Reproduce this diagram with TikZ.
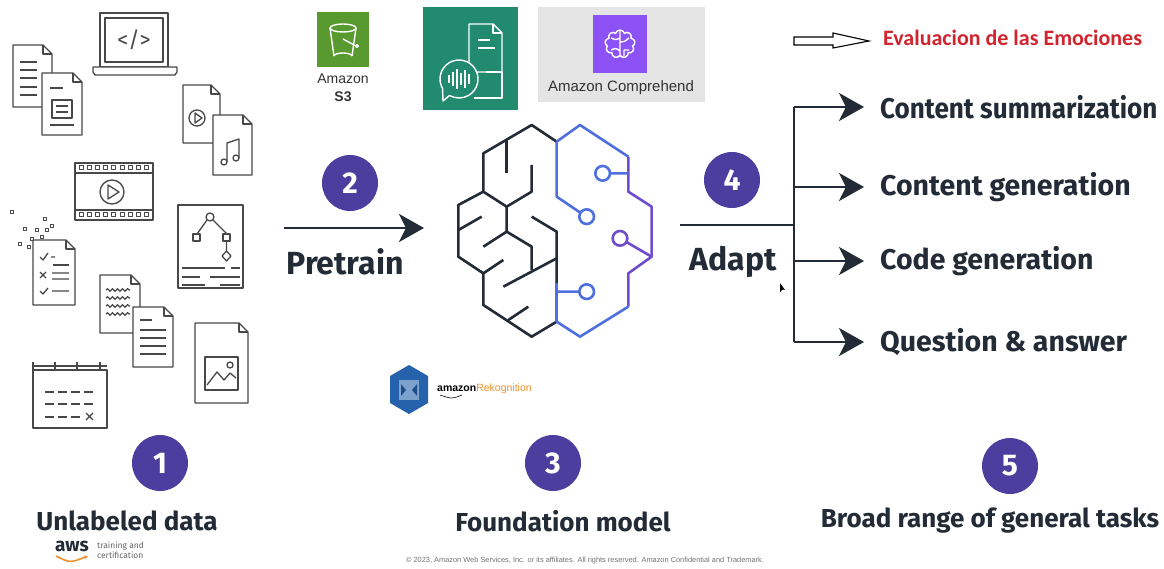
\documentclass[tikz,border=0pt]{standalone}
\usepackage{fontspec}
\setmainfont{Fira Sans}
\newfontfamily\arialfont{Liberation Sans}
\newfontfamily\carlitofont{Carlito}
\usetikzlibrary{arrows.meta,positioning,shapes.symbols,decorations.pathmorphing}

\definecolor{inkdark}{RGB}{35,43,55}
\definecolor{stepviolet}{RGB}{76,62,158}
\definecolor{icongrey}{RGB}{72,72,72}
\definecolor{brainblue}{RGB}{78,112,222}
\definecolor{brainviolet}{RGB}{110,76,204}
\definecolor{sthreegreen}{RGB}{88,154,48}
\definecolor{transteal}{RGB}{34,138,110}
\definecolor{comppurple}{RGB}{140,82,245}
\definecolor{compgrey}{RGB}{228,228,228}
\definecolor{rekblue}{RGB}{38,98,172}
\definecolor{awsorange}{RGB}{238,146,44}
\definecolor{emored}{RGB}{208,36,46}

\tikzset{
  stepnum/.style={circle,fill=stepviolet,text=white,minimum size=56pt,inner sep=0pt,
    font=\fontsize{30}{30}\selectfont\bfseries},
  caption/.style={text=inkdark,inner sep=0pt,font=\fontsize{26}{30}\selectfont\bfseries},
  verb/.style={caption,font=\fontsize{32}{36}\selectfont\bfseries},
  task/.style={caption,anchor=west,font=\fontsize{28.5}{32}\selectfont\bfseries},
  flow/.style={draw=inkdark,line width=2.8pt,-{Stealth[length=25pt,width=28pt,inset=7pt]}},
  trunk/.style={draw=inkdark,line width=2.8pt},
  icon/.style={draw=icongrey,line width=1.3pt,line join=round,fill=white},
  wave/.style={draw=icongrey,line width=1.2pt,decorate,decoration={snake,amplitude=1.3pt,segment length=5pt}},
  brainleft/.style={draw=inkdark,line width=2.6pt,line join=round},
  brainright/.style={draw=brainblue,line width=2.6pt,line join=round},
  brainedge/.style={draw=brainviolet,line width=2.6pt,line join=round},
  logoline/.style={draw=white,line width=1.4pt,line join=round},
  logotext/.style={inner sep=0pt,text=black!80,font=\arialfont\fontsize{14}{16}\selectfont}
}

\newcommand{\paperdoc}[4]{%
  \draw[icon] (#1,#2) -- ++({#3-9},0) -- ++(9,9) -- ++(0,{#4-9}) -- ++(-#3,0) -- cycle;
  \draw[icon,fill=none] ({#1+#3-9},#2) -- ++(0,9) -- ++(9,0);}

\begin{document}
\begin{tikzpicture}[x=1pt,y=-1pt]
\useasboundingbox (0,0) rectangle (1164,569);
\fill[white] (0,0) rectangle (1164,569);

\paperdoc{13}{45}{39}{62}
\foreach \y in {62,70,78,87,95} \draw[icon] (20,\y) -- (37,\y);
\paperdoc{42}{73}{40}{62}
\draw[icon] (50,88) -- (63,88) (50,125) -- (74,125);
\draw[icon] (52,100) rectangle (72,118);
\draw[icon] (56,106) -- (68,106) (56,112) -- (68,112);

\draw[icon] (100,13) rectangle (168,67);
\draw[icon] (105,18) rectangle (163,62);
\draw[icon] (93,67) -- (177,67) -- (177,72) -- (175,75) -- (95,75) -- (93,72) -- cycle;
\node[text=icongrey,font=\fontsize{22}{22}\selectfont] (code) at (134,40) {</>};

\paperdoc{183}{85}{37}{58}
\draw[icon] (197,118) circle[radius=8];
\draw[icon] (195,113) -- (195,123) -- (202,118) -- cycle;
\paperdoc{213}{115}{39}{60}
\draw[icon,fill=none] (227,162) -- (227,143) -- (239,139) -- (239,158);
\draw[icon] (224,162) circle[radius=3] (236,158) circle[radius=3];

\draw[icon] (75,163) rectangle (153,220);
\draw[icon] (75,173) -- (153,173) (75,210) -- (153,210);
\foreach \x in {0,...,8}
  \draw[icon,line width=1pt] ({79+\x*8.2},166) rectangle ++(4,4) ({79+\x*8.2},213) rectangle ++(4,4);
\draw[icon] (112,192) circle[radius=12];
\draw[icon] (108,185) -- (108,199) -- (119,192) -- cycle;

\foreach \x/\y in {10/211,43/218,23/228,35/229,45/229,50/225,30/238,40/236,18/243,27/246}
  \draw[icon,line width=1pt] (\x,\y) rectangle ++(3,3);
\paperdoc{33}{240}{42}{65}
\draw[icon,fill=none] (40,257) -- (43,260) -- (48,253) (51,257) -- (55,257);
\draw[icon] (53,265) -- (69,265);
\draw[icon] (40,272) -- (46,278) (46,272) -- (40,278) (52,273) -- (69,273) (52,279) -- (69,279);
\draw[icon,fill=none] (40,291) -- (43,294) -- (48,288) (52,291) -- (69,291);

\draw[icon] (178,205) rectangle (243,288);
\draw[icon] (207,220) -- (197,234) (213,220) -- (227,234) (226.5,241) -- (226.5,251);
\draw[icon] (210,217) circle[radius=4];
\draw[icon] (193,234) rectangle ++(7,7) (223,234) rectangle ++(7,7);
\draw[icon] (226.5,251) -- (231,256) -- (226.5,261) -- (222,256) -- cycle;
\draw[icon] (182,268) -- (225,268) (231,268) -- (240,268) (182,277) -- (200,277) (210,277) -- (240,277)
  (182,285) -- (205,285) (220,285) -- (240,285);

\paperdoc{100}{275}{40}{58}
\foreach \y in {290,298,306,314} \draw[wave] (106,\y) -- (130,\y);
\paperdoc{133}{307}{40}{60}
\draw[icon] (140,320) -- (152,320);
\foreach \y in {330,338,346,354} \draw[icon] (140,\y) -- (166,\y);

\paperdoc{195}{323}{53}{80}
\draw[icon] (205,357) rectangle (238,390);
\draw[icon,fill=none] (207,385) -- (217,372) -- (224,380) -- (230,373) -- (236,378);
\draw[icon] (230,365) circle[radius=3];

\draw[icon] (33,370) rectangle (107,428);
\draw[icon] (33,366) -- (107,366);
\foreach \x in {33,55,77,100} \draw[icon] (\x,362) -- (\x,370);
\foreach \y in {392,404} \foreach \x in {45,58,71,84} \draw[icon] (\x,\y) -- ++(9,0);
\foreach \x in {45,58,71} \draw[icon] (\x,417) -- ++(9,0);
\draw[icon] (86,413) -- (93,420) (93,413) -- (86,420);

\node[stepnum] (s1) at (160,463) {1};
\node[caption] (unlabeled) at (127,521) {Unlabeled data};

\node[stepnum] (s2) at (350,183) {2};
\node[verb] (pretrain) at (345,262) {Pretrain};
\coordinate (pre-in) at (284,228);
\coordinate (pre-out) at (424,228);
\draw[flow] (pre-in) -- (pre-out);

\begin{scope}[shift={(420,110)},scale=1/3]
  \draw[brainleft] (410,95) -- (335,45) -- (190,130) -- (190,245) -- (115,285) -- (115,440) -- (190,490)
    -- (190,585) -- (335,680) -- (410,635);
  \draw[brainleft] (260,90) -- (260,190);
  \draw[brainleft] (335,165) -- (335,245) -- (260,290);
  \draw[brainleft] (190,245) -- (260,290) -- (260,365) -- (335,410) -- (335,480);
  \draw[brainleft] (260,365) -- (190,410);
  \draw[brainleft] (115,360) -- (185,320);
  \draw[brainleft] (190,490) -- (250,450);
  \draw[brainleft] (250,530) -- (410,445);
  \draw[brainleft] (265,630) -- (325,590);
  \draw[brainleft] (335,320) -- (410,365) -- (410,520);
  \draw[brainright] (410,520) -- (410,635);
  \draw[brainright] (410,95) -- (480,45) -- (625,140);
  \draw[brainedge] (625,140) -- (625,245) -- (695,290) -- (695,440) -- (625,490) -- (625,590);
  \draw[brainright] (625,590) -- (480,680) -- (410,635);
  \draw[brainright] (410,95) -- (410,260) -- (481,308);
  \draw[brainright] (500,320) circle[radius=22];
  \draw[brainright] (548,190) circle[radius=22] (570,190) -- (625,190);
  \draw[brainedge] (600,385) circle[radius=22] (619,396) -- (695,440);
  \draw[brainright] (500,545) circle[radius=22] (410,545) -- (478,545);
\end{scope}

\node[stepnum] (s3) at (553,463) {3};
\node[caption] (foundation) at (563,521) {Foundation model};

\node[stepnum] (s4) at (732,180) {4};
\node[verb] (adapt) at (733,262) {Adapt};
\coordinate (adapt-in) at (680,225);
\coordinate (fork) at (794,225);
\node[task] (task1) at (880,107) {\scalebox{0.915}[1]{Content summarization}};
\foreach \t/\y [count=\i from 2] in {Content generation/187,Code generation/261,Question \& answer/342}
  \node[task] (task\i) at (880,\y) {\t};
\draw[trunk] (adapt-in) -- (fork);
\draw[trunk] (fork |- task1) -- (fork |- task4);
\foreach \i in {1,...,4}
  \draw[flow] (fork |- task\i) -- ([xshift=-16pt]task\i.west);
\fill[black] (780,283) -- (780,292) -- (782.5,289.5) -- (785,290) -- cycle;

\node[stepnum] (s5) at (1010,466) {5};
\node[caption] (broad) at (990,521) {Broad range of general tasks};

\fill[sthreegreen] (317,12) rectangle (369,67);
\draw[logoline] (343,28) ellipse[x radius=13,y radius=4];
\draw[logoline] (330,28) -- (334,56) (356,28) -- (352,56);
\draw[logoline] (334,56) arc[start angle=180,end angle=360,x radius=9,y radius=3];
\draw[logoline] (343,39) -- (356,46);
\draw[logoline] (357,46) circle[radius=1.5];
\node[logotext] (s3name) at (343,79) {Amazon};
\node[logotext,font=\arialfont\bfseries\fontsize{14}{16}\selectfont] (s3sub) at (343,97) {S3};

\fill[transteal] (423,7) rectangle (518,110);
\draw[logoline,fill=transteal] (469,24) -- (493,24) -- (502,33) -- (502,72) -- (469,72) -- cycle;
\draw[logoline] (493,24) -- (493,33) -- (502,33);
\draw[logoline] (478,40) -- (490,40) (478,48) -- (495,48) (486,72) -- (502,72) -- (502,98) -- (474,98);
\draw[logoline,fill=transteal] (459,79) ++(150:19) arc[start angle=150,end angle=480,radius=19] -- (443,101) -- cycle;
\foreach \x/\h in {449/4,453/7,457/10,461/6,465/9,469/5}
  \draw[logoline,line width=1.6pt] (\x,{79-\h}) -- (\x,{79+\h});

\fill[compgrey] (538,7) rectangle (705,102);
\fill[comppurple] (593,15) rectangle (647,73);
\node[cloud,cloud puffs=9,draw=white,line width=1.4pt,minimum width=30pt,minimum height=28pt,inner sep=0pt]
  (compbrain) at (620,44) {};
\draw[logoline] (620,31) -- (620,57) (611,38) .. controls (616,40) .. (620,38) (611,50) .. controls (616,48) .. (620,51)
  (629,38) .. controls (624,42) .. (620,42) (629,50) -- (624,50) -- (624,56);
\node[logotext,font=\arialfont\fontsize{15}{16}\selectfont] (compname) at (621,88) {Amazon Comprehend};

\fill[rekblue] (409,365) -- (428,376) -- (428,403) -- (409,414) -- (390,403) -- (390,376) -- cycle;
\fill[rekblue!60!white] (399,380) rectangle (419,400);
\fill[rekblue!80!black] (401,384) -- (406,390) -- (401,396) -- cycle (417,384) -- (412,390) -- (417,396) -- cycle;
\node[anchor=west,inner sep=0pt,font=\arialfont\fontsize{10.5}{12}\selectfont] (rekname) at (437,389)
  {\textbf{amazon}\textcolor{awsorange}{Rekognition}};
\draw[black,line width=0.6pt] (440,395) .. controls (452,399) .. (462,395);

\draw[black,line width=1.1pt,line join=miter] (794,37) -- (833,37) -- (833,33) -- (869,41) -- (833,48)
  -- (833,45) -- (794,45) -- cycle;
\node[anchor=west,inner sep=0pt,text=emored,font=\carlitofont\bfseries\fontsize{22}{24}\selectfont] (emotion)
  at (883,38) {Evaluacion de las Emociones};

\node[inner sep=0pt,text=inkdark,font=\bfseries\fontsize{19}{20}\selectfont] (awsmark) at (72,546) {aws};
\draw[awsorange,line width=1.6pt,-{Stealth[length=4pt,width=4pt]}] (56,556) .. controls (70,563) .. (88,556);
\node[anchor=west,inner sep=0pt,align=left,text=black!60,font=\fontsize{8.5}{10}\selectfont] (awstc) at (97,550)
  {training and\\certification};

\node[inner sep=0pt,text=black!55,font=\arialfont\fontsize{7.4}{8}\selectfont] (footer) at (585,561)
  {\copyright{} 2023, Amazon Web Services, Inc. or its affiliates. All rights reserved. Amazon Confidential and Trademark.};
\end{tikzpicture}
\end{document}
